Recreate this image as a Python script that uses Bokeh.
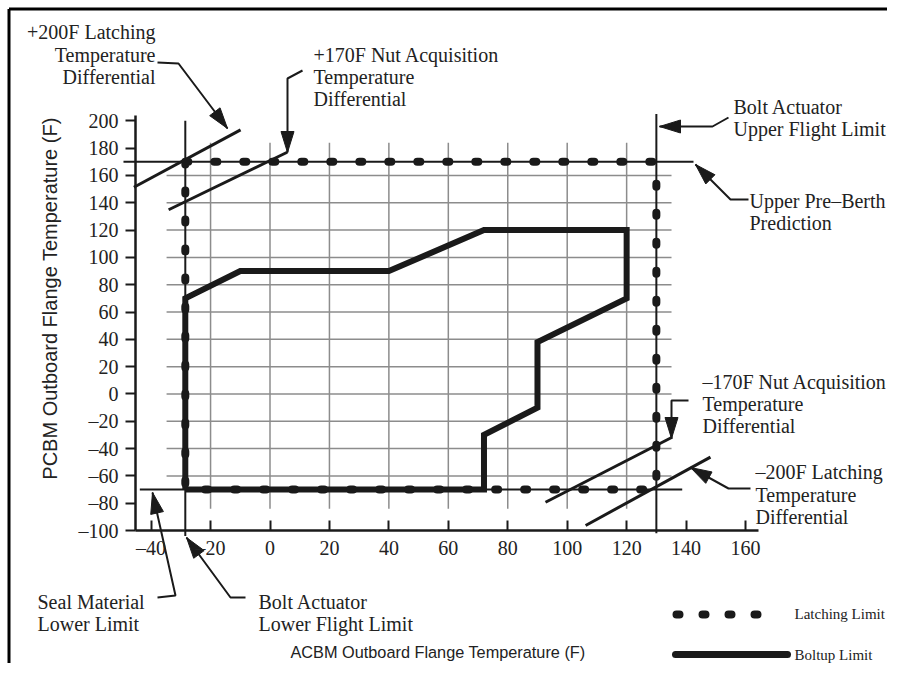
import math
from bokeh.plotting import figure
from bokeh.models import Range1d, FixedTicker
from bokeh.core.properties import value
from bokeh.embed import file_html
from bokeh.resources import INLINE

# ---------------- data ----------------
x_ticks = [-40, -20, 0, 20, 40, 60, 80, 100, 120, 140, 160]
x_tick_labels = ["–40", "–20", "0", "20", "40", "60", "80", "100", "120", "140", "160"]
y_ticks = [-100, -80, -60, -40, -20, 0, 20, 40, 60, 80, 100, 120, 140, 160, 180, 200]
y_tick_labels = ["–100", "–80", "–60", "–40", "–20", "0", "20", "40", "60", "80",
                 "100", "120", "140", "160", "180", "200"]

grid_x = [-20, 0, 20, 40, 60, 80, 100, 120]
grid_y = [-60, -40, -20, 0, 20, 40, 60, 80, 100, 120, 140, 160]

# Latching limit (dotted rectangle)
latch_x = [-28.5, 130, 130, -28.5, -28.5]
latch_y = [170, 170, -70, -70, 170]

# Boltup limit (solid polygon)
boltup_x = [-28.5, -28.5, -10, 40, 72, 120, 120, 90, 90, 72, 72, -28.5]
boltup_y = [-70, 70, 90, 90, 120, 120, 70, 38, -10, -30, -70, -70]

# Flight limits (vertical) and pre-berth / seal limits (horizontal)
vlim_x = [-28.5, 130]
vlim_y0 = [-104, -102]
vlim_y1 = [200, 205]
hlim_y = [170, -70]
hlim_x0 = [-49.3, -43.8]
hlim_x1 = [142.5, 138.7]

# Temperature differential lines (+200F, +170F, -170F, -200F)
diff_x0 = [-45.8, -34.1, 92.7, 106.2]
diff_y0 = [151.4, 134.9, -79.3, -96.3]
diff_x1 = [-9.9, 5.8, 135.3, 148.2]
diff_y1 = [193.4, 177.0, -31.7, -46.3]

# ---------------- layout helpers (picture pixels -> data) ----------------
FIG_W, FIG_H = 887, 663
PX_X = 2.972
PX_Y = 1.3655
X0_PX = 269.5
YM100_PX = 530.0


def X(px):
    return (px - X0_PX) / PX_X


def Y(py):
    return -100 + (YM100_PX - py) / PX_Y


p = figure(width=FIG_W, height=FIG_H,
           x_range=Range1d(X(0), X(FIG_W)),
           y_range=Range1d(Y(FIG_H), Y(0)),
           output_backend="svg", toolbar_location=None, min_border=0)
p.outline_line_color = None
p.background_fill_color = "white"
p.border_fill_color = "white"
p.xgrid.visible = False
p.ygrid.visible = False

INK = "#1a1a1a"
TXT = "#222222"
SERIF = "Liberation Serif"
SANS = "Liberation Sans"

# axes inside the frame
xa = p.xaxis[0]
ya = p.yaxis[0]
xa.fixed_location = -100
ya.fixed_location = X(135)
xa.bounds = (X(135), X(758))
ya.bounds = (-100, Y(115))
xa.ticker = FixedTicker(ticks=x_ticks)
ya.ticker = FixedTicker(ticks=y_ticks)
xa.major_label_overrides = {t: l for t, l in zip(x_ticks, x_tick_labels)}
ya.major_label_overrides = {t: l for t, l in zip(y_ticks, y_tick_labels)}
for ax in (xa, ya):
    ax.minor_tick_line_color = None
    ax.axis_line_width = 2.5
    ax.axis_line_color = INK
    ax.major_tick_line_width = 2
    ax.major_tick_line_color = INK
    ax.major_label_text_font = SERIF
    ax.major_label_text_font_size = "20px"
    ax.major_label_text_color = TXT
xa.major_tick_in = 10
xa.major_tick_out = 0
xa.major_label_standoff = 6
ya.major_tick_in = 0
ya.major_tick_out = 10
ya.major_label_standoff = 7

# picture border (left and top edges)
p.line([X(8.5), X(8.5)], [Y(FIG_H), Y(8.5)], line_width=3, color="black")
p.line([X(8.5), X(FIG_W)], [Y(8.5), Y(8.5)], line_width=3, color="black")

# grid
GRID = "#8c8c8c"
p.segment(x0=grid_x, y0=[-84] * len(grid_x), x1=grid_x, y1=[184] * len(grid_x),
          line_color=GRID, line_width=1.5)
p.segment(x0=[-34.8] * len(grid_y), y0=grid_y, x1=[135.1] * len(grid_y), y1=grid_y,
          line_color=GRID, line_width=1.5)

# limit lines
p.segment(x0=vlim_x, y0=vlim_y0, x1=vlim_x, y1=vlim_y1, line_color=INK, line_width=2)
p.segment(x0=hlim_x0, y0=hlim_y, x1=hlim_x1, y1=hlim_y, line_color=INK, line_width=2)

# differential lines
p.segment(x0=diff_x0, y0=diff_y0, x1=diff_x1, y1=diff_y1, line_color=INK, line_width=3)

# boltup limit
p.line(boltup_x, boltup_y, line_color=INK, line_width=6, line_join="miter")

# latching limit
p.line(latch_x, latch_y, line_color=INK, line_width=8, line_dash="3 26",
       line_cap="round")

# ---------------- annotations ----------------
leaders = [
    [(157, 62), (178, 63), (227, 128)],
    [(302, 70), (287, 78), (287, 152)],
    [(728, 117), (712, 126), (659, 126)],
    [(748, 199), (730, 199), (695, 164)],
    [(688, 400), (671, 400), (671, 438)],
    [(750, 488), (728, 488), (690, 467)],
    [(157, 597), (175, 595), (152, 492)],
    [(245, 597), (230, 597), (186, 537)],
]
p.multi_line(xs=[[X(a) for a, b in L] for L in leaders],
             ys=[[Y(b) for a, b in L] for L in leaders],
             line_color=INK, line_width=2)

HEAD_L, HEAD_W = 21, 13
hx, hy = [], []
for L in leaders:
    (px, py), (tx, ty) = L[-2], L[-1]
    d = math.hypot(tx - px, ty - py)
    ux, uy = (tx - px) / d, (ty - py) / d
    bx, by = tx - ux * HEAD_L, ty - uy * HEAD_L
    nx, ny = -uy, ux
    pts = [(tx, ty), (bx + nx * HEAD_W / 2, by + ny * HEAD_W / 2),
           (bx - nx * HEAD_W / 2, by - ny * HEAD_W / 2)]
    hx.append([X(a) for a, b in pts])
    hy.append([Y(b) for a, b in pts])
p.patches(hx, hy, fill_color=INK, line_color=INK, line_width=1)

texts_right = [("+200F Latching", 155, 31), ("Temperature", 155, 54), ("Differential", 155, 76)]
texts_left = [
    ("+170F Nut Acquisition", 313, 54), ("Temperature", 313, 76), ("Differential", 313, 98),
    ("Bolt Actuator", 733, 106), ("Upper Flight Limit", 733, 128),
    ("Upper Pre–Berth", 749, 200), ("Prediction", 749, 222),
    ("–170F Nut Acquisition", 702, 381), ("Temperature", 702, 403), ("Differential", 702, 425),
    ("–200F Latching", 755, 471), ("Temperature", 755, 494), ("Differential", 755, 516),
    ("Seal Material", 37, 601), ("Lower Limit", 37, 623),
    ("Bolt Actuator", 258, 601), ("Lower Flight Limit", 258, 623),
]
p.text(x=[X(a) for t, a, b in texts_right], y=[Y(b) for t, a, b in texts_right],
       text=[t for t, a, b in texts_right], text_font=value(SERIF), text_font_size="20px",
       text_color=TXT, text_align="right", text_baseline="alphabetic")
p.text(x=[X(a) for t, a, b in texts_left], y=[Y(b) for t, a, b in texts_left],
       text=[t for t, a, b in texts_left], text_font=value(SERIF), text_font_size="20px",
       text_color=TXT, text_align="left", text_baseline="alphabetic")

# axis titles
p.text(x=[X(290)], y=[Y(651.5)], text=["ACBM Outboard Flange Temperature (F)"],
       text_font=value(SANS), text_font_size="16.3px", text_color=TXT,
       text_align="left", text_baseline="alphabetic")
p.text(x=[X(49)], y=[Y(298)], text=["PCBM Outboard Flange Temperature (F)"],
       text_font=value(SANS), text_font_size="20px", text_color=TXT, angle=math.pi / 2,
       text_align="center", text_baseline="middle")

# legend
p.line([X(676), X(779)], [Y(614), Y(614)], line_color=INK, line_width=8,
       line_dash="3 23", line_cap="round")
p.line([X(675), X(787)], [Y(654), Y(654)], line_color=INK, line_width=7, line_cap="round")
p.text(x=[X(794), X(794)], y=[Y(613), Y(654)], text=["Latching Limit", "Boltup Limit"],
       text_font=value(SERIF), text_font_size="15px", text_color=TXT,
       text_align="left", text_baseline="middle")

open("out.html", "w").write(file_html(p, INLINE))
